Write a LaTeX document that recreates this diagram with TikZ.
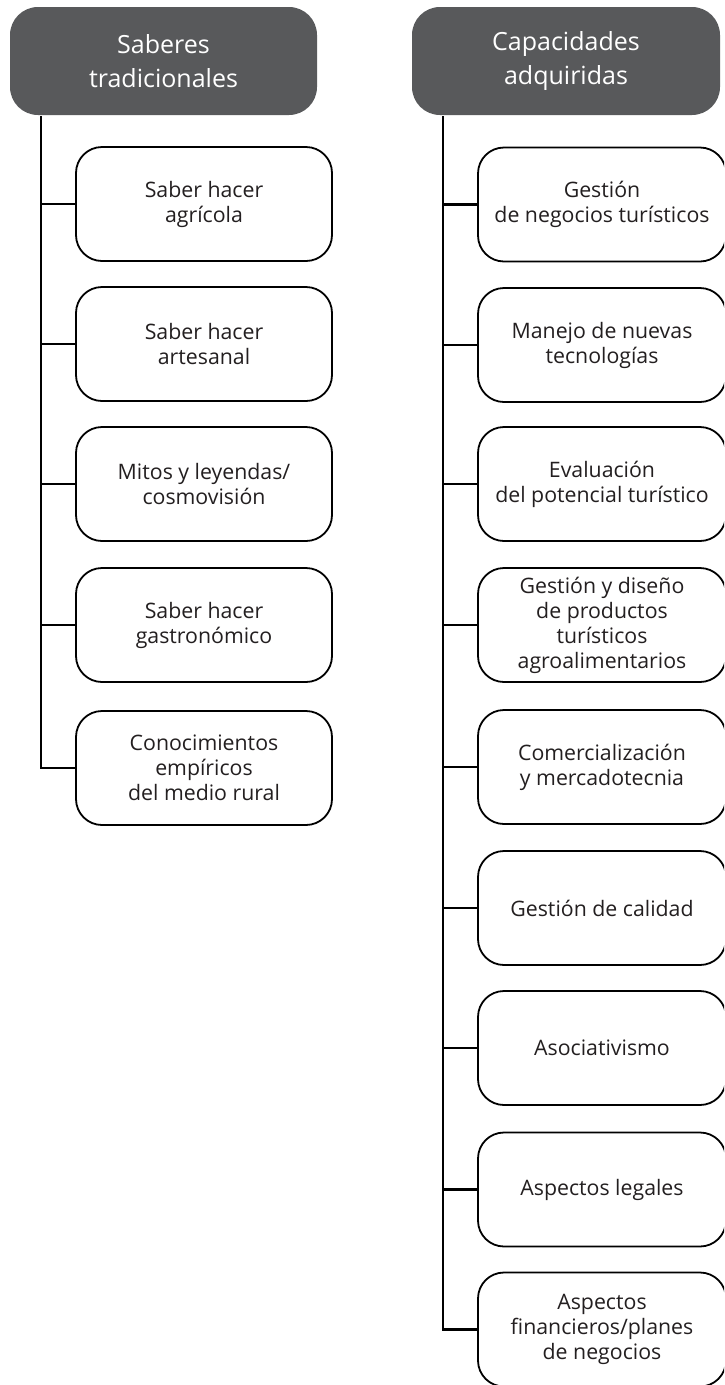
\documentclass[tikz,border=0pt]{standalone}
\usepackage{fontspec}
\setmainfont{Open Sans}
\definecolor{headfill}{HTML}{58595B}
\definecolor{inktext}{HTML}{231F20}
\begin{document}
\begin{tikzpicture}[x=1pt,y=-1pt,
  header/.style={rounded corners=28pt, fill=headfill, draw=none,
    minimum width=307pt, minimum height=108pt, text=white, align=center,
    font=\fontsize{25}{34}\selectfont, inner sep=0pt},
  item/.style={rounded corners=26pt, draw=black, line width=1.8pt, fill=white,
    minimum height=114pt, text=inktext, align=center,
    font=\fontsize{21.3}{25}\selectfont, inner sep=0pt},
  litem/.style={item, minimum width=256pt},
  ritem/.style={item, minimum width=248pt},
  link/.style={draw=black, line width=2.4pt}]
\useasboundingbox (0,0) rectangle (724,1385);
\clip (0,0) rectangle (724,1385);

% left column: traditional knowledge
\node[header] (lh) at (163.5,61) {Saberes\\tradicionales};
\coordinate (ltop) at (41,116);
\node[litem] (l1) at (204,204) {Saber hacer\\agrícola};
\node[litem] (l2) at (204,344) {Saber hacer\\artesanal};
\node[litem] (l3) at (204,484) {Mitos y leyendas/\\cosmovisión};
\node[litem] (l4) at (204,625) {Saber hacer\\gastronómico};
\node[litem] (l5) at (204,768) {Conocimientos\\empíricos\\del medio rural};

\draw[link] (ltop) |- (l5.west);
\foreach \n in {l1,l2,l3,l4}
  \draw[link] (\n.west) -- (\n.west -| ltop);

% right column: acquired capacities
\node[header, minimum width=308pt] (rh) at (566,61) {Capacidades\\adquiridas};
\coordinate (rtop) at (443,116);
\node[ritem] (r1) at (602,204.5) {Gestión\\de negocios turísticos};
\node[ritem] (r2) at (602,345) {Manejo de nuevas\\tecnologías};
\node[ritem] (r3) at (602,484) {Evaluación\\del potencial turístico};
\node[ritem] (r4) at (602,625) {Gestión y diseño\\de productos\\turísticos\\agroalimentarios};
\node[ritem] (r5) at (602,767) {Comercialización\\y mercadotecnia};
\node[ritem] (r6) at (602,908) {Gestión de calidad};
\node[ritem] (r7) at (602,1048) {Asociativismo};
\node[ritem] (r8) at (602,1189.5) {Aspectos legales};
\node[ritem] (r9) at (602,1329.5) {Aspectos\\financieros/planes\\de negocios};

\draw[link] (rtop) |- (r9.west);
\foreach \n in {r1,r2,r3,r4,r5,r6,r7,r8}
  \draw[link] (\n.west) -- (\n.west -| rtop);
\end{tikzpicture}
\end{document}
